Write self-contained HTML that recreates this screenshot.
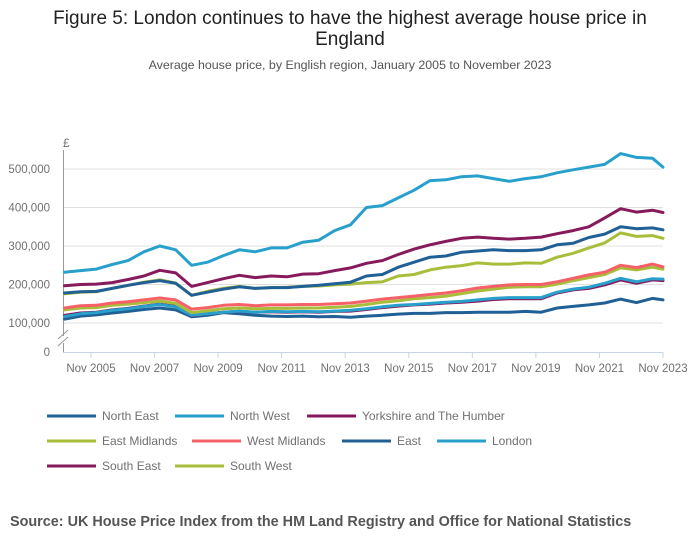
<!DOCTYPE html>
<html><head><meta charset="utf-8"><style>
body{margin:0;background:#fff;font-family:"Liberation Sans",sans-serif;}
#wrap{position:relative;width:700px;height:549px;overflow:hidden;}
svg text{font-family:"Liberation Sans",sans-serif;}
</style></head><body>
<div id="wrap">
<svg id="chart" width="700" height="549">
<text x="350" y="24" text-anchor="middle" font-size="19" fill="#222">Figure 5: London continues to have the highest average house price in</text>
<text x="350" y="45" text-anchor="middle" font-size="19" fill="#222">England</text>
<text x="350" y="69" text-anchor="middle" font-size="12.4" fill="#555">Average house price, by English region, January 2005 to November 2023</text>
<text x="63" y="147" font-size="12" fill="#707070">£</text>
<g id="grid"></g>
<g id="series"></g>
<g id="legend"></g>
<text x="10" y="526" font-size="14.4" font-weight="bold" fill="#555">Source: UK House Price Index from the HM Land Registry and Office for National Statistics</text>
</svg>
</div>
<script>
const months = [0,6,12,18,24,30,36,42,48,54,60,66,72,78,84,90,96,102,108,114,120,126,132,138,144,150,156,162,168,174,180,186,192,198,204,210,216,222,226];
const seriesNames = ["North East","North West","Yorkshire and The Humber","East Midlands","West Midlands","East","London","South East","South West"];
const northEast = [110,118,121,126,130,135,139,134,116,120,127,124,120,118,117,118,116,117,115,118,120,123,125,125,127,127,128,128,128,130,128,139,143,147,152,162,153,164,160];
const northWest = [117,124,127,133,137,143,148,142,120,124,128,131,128,130,129,130,129,131,133,137,142,146,148,151,154,156,160,164,166,166,166,180,188,193,203,216,207,215,214];
const yorkshire = [120,126,128,134,138,144,149,143,119,124,128,130,128,129,128,129,128,130,131,135,140,144,147,149,152,154,157,161,163,163,163,178,186,190,199,212,203,212,210];
const eastMidlands = [134,139,140,146,149,153,157,151,127,132,137,139,137,138,138,139,139,141,143,148,154,158,163,166,170,176,183,188,193,194,194,201,210,218,226,243,238,245,240];
const westMidlands = [139,145,146,152,155,160,165,160,136,140,146,148,145,147,147,148,148,150,152,157,162,166,170,174,178,184,191,195,199,200,200,207,216,225,232,250,244,253,246];
const east = [178,181,182,190,198,205,210,203,172,180,188,194,190,192,192,195,198,202,206,222,226,245,258,271,274,284,287,290,288,288,290,303,307,322,331,350,345,347,342];
const london = [232,236,240,252,262,285,300,290,250,258,275,290,285,295,295,310,315,340,355,400,405,425,445,470,472,480,482,475,468,475,480,490,498,505,512,540,530,528,505];
const southEast = [197,200,201,205,213,222,237,230,195,205,215,224,218,222,220,227,228,236,243,255,262,278,292,303,312,320,323,320,318,320,323,332,340,350,373,397,388,393,387];
const southWest = [176,180,181,190,198,206,212,204,172,182,190,195,190,192,193,195,196,199,201,205,207,222,226,238,245,249,256,253,253,256,255,271,281,295,308,334,325,327,320];
const yTicks = [100,200,300,400,500];
const xTickMonths = [10,34,58,82,106,130,154,178,202,226];
const xTickLabels = ["Nov 2005","Nov 2007","Nov 2009","Nov 2011","Nov 2013","Nov 2015","Nov 2017","Nov 2019","Nov 2021","Nov 2023"];

const NS="http://www.w3.org/2000/svg";
const X0=63, X1=663;
function xScale(m){return 64.5+m*(663-64.5)/226;}
function yScale(v){return 323-(v-100)*38.5/100;}
function mk(tag,attrs,parent){const e=document.createElementNS(NS,tag);for(const k in attrs)e.setAttribute(k,attrs[k]);parent.appendChild(e);return e;}
const grid=document.getElementById('grid');
yTicks.forEach(function(v){
  const y=yScale(v);
  const l=mk('line',{x1:X0,x2:X1,y1:y,y2:y,stroke:'#e0e0e0','stroke-width':1},grid);
  
  
  const t=mk('text',{x:50,y:y+4,'text-anchor':'end','font-size':11.5,fill:'#707070'},grid);
  t.textContent=(v*1000).toLocaleString('en-GB');
  
  
});
const zero=mk('text',{x:50,y:356,'text-anchor':'end','font-size':11.5,fill:'#707070'},grid);
zero.textContent='0';


const yax=mk('path',{d:'M63.5 150 V336 M63.5 343 V352',stroke:'#999','stroke-width':1,fill:'none'},grid);


const brk=mk('path',{d:'M58 339 L68 330 M58 346 L68 337',stroke:'#999','stroke-width':1,fill:'none'},grid);


const xax=mk('line',{x1:X0,x2:X1,y1:352.5,y2:352.5,stroke:'#c6d4e6','stroke-width':1},grid);


xTickMonths.forEach(function(m,i){
  const x=xScale(m);
  const tk=mk('line',{x1:x,x2:x,y1:352,y2:358,stroke:'#c6d4e6','stroke-width':1},grid);
  
  
  const t=mk('text',{x:x,y:372,'text-anchor':'middle','font-size':11.5,fill:'#707070'},grid);
  t.textContent=xTickLabels[i];
  
  
});
const seriesData=[northEast,northWest,yorkshire,eastMidlands,westMidlands,east,london,southEast,southWest];
const colors=['#206095','#27a0cc','#871a5b','#a8bd3a','#f66068','#206095','#27a0cc','#871a5b','#a8bd3a'];
const order=[0,2,1,3,4,8,5,7,6];
const sg=document.getElementById('series');
order.forEach(function(i){
  const d=seriesData[i].map(function(v,j){return (j?'L':'M')+xScale(months[j]).toFixed(1)+' '+yScale(v).toFixed(1);}).join(' ');
  const p=mk('path',{d:d,stroke:colors[i],'stroke-width':3,fill:'none','stroke-linejoin':'round','stroke-linecap':'round'},sg);
  
  
});
const legPos=[[47,416],[175,416],[307,416],[47,441],[192,441],[342,441],[437,441],[47,466],[175,466]];
const lg=document.getElementById('legend');
seriesNames.forEach(function(n,i){
  const g=mk('g',{},lg);
  
  
  const x=legPos[i][0], y=legPos[i][1];
  mk('line',{x1:x,x2:x+49,y1:y,y2:y,stroke:colors[i],'stroke-width':3},g);
  const t=mk('text',{x:x+55,y:y+4,'font-size':12,fill:'#707070'},g);
  t.textContent=n;
});
</script>
</body></html>
